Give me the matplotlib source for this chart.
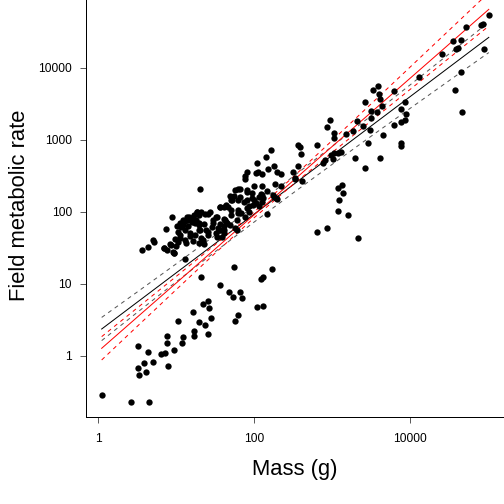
#Grafica log-log de tasa metabolica de campo contra masa corporal
import numpy as np
import matplotlib.pyplot as plt
from matplotlib.ticker import FixedLocator, NullLocator

plt.rcParams['font.family'] = ['Liberation Sans', 'DejaVu Sans']

#Puntos (log10 de masa, log10 de tasa metabolica)
#Grupo bajo
bajo_lx = [0.047, 0.42, 0.66, 0.51, 0.51, 0.53, 0.59, 0.61, 0.645, 0.71, 0.81, 0.86, 0.88,
           0.89, 0.90, 0.97, 1.02, 1.08, 1.09, 1.22, 1.23, 1.23, 1.30, 1.32, 1.35, 1.37, 1.41,
           1.42, 1.41, 1.45, 1.57, 1.68, 1.73, 1.74, 1.76, 1.79, 1.82, 1.84, 2.09, 2.12, 2.23,
           2.04, 2.12, 2.81, 2.94, 3.33, 3.08, 3.13, 3.14, 3.09, 3.08, 3.21]
bajo_ly = [-0.54, -0.64, -0.64, 0.135, -0.17, -0.27, -0.10, -0.23, 0.05, -0.09, 0.02, 0.04, 0.17,
           0.28, -0.14, 0.075, 0.48, 0.18, 0.255, 0.61, 0.34, 0.28, 0.47, 1.10, 0.72, 0.43, 0.76,
           0.66, 0.30, 0.52, 0.98, 0.89, 0.81, 1.23, 0.48, 0.565, 0.89, 0.80, 1.07, 1.09, 1.20,
           0.67, 0.69, 1.72, 1.78, 1.63, 2.33, 2.37, 2.26, 2.16, 2.01, 1.96]

#Grupo medio
medio_lx = [1.31, 0.57, 0.645, 0.72, 0.84, 0.88, 0.94, 1.00, 0.96, 0.98, 1.12, 0.87, 0.95, 0.99,
            1.05, 1.12, 1.02, 1.06, 1.18, 1.24, 1.32, 1.36, 1.41, 1.46, 1.47, 1.27, 1.32, 1.37,
            1.41, 1.44, 1.16, 1.20, 1.24, 1.11, 1.09, 1.15, 1.29, 1.05, 1.01, 1.09, 1.14, 1.18,
            1.23, 1.30, 1.27, 1.53, 1.57, 1.62, 1.67, 1.71, 1.80, 1.69, 1.71, 1.80, 1.91, 1.76,
            1.79, 1.91, 1.88, 1.91, 1.39, 1.48, 1.62, 1.69, 1.78, 1.88, 1.05, 1.12, 1.18, 1.31,
            1.59, 1.76, 1.63, 1.57, 1.56, 1.83, 1.91, 1.71,
            1.17, 1.25, 1.29, 1.36, 1.21, 1.29, 1.41, 1.51, 1.55, 1.62, 1.78, 1.64, 0.71, 0.85,
            0.92, 0.97, 1.03, 1.13, 1.22, 1.29, 1.35, 1.61, 1.52,
            2.04, 2.15, 2.22, 2.25, 2.18, 2.02, 2.05, 2.10, 2.29, 2.34, 2.50, 2.57, 2.59, 2.60,
            2.81, 2.10, 2.27, 2.35, 1.97, 2.09, 2.17, 2.24, 2.00, 2.03, 2.17, 2.29, 2.53, 2.61,
            1.89, 2.00, 1.91, 2.07, 2.12, 2.28, 1.99, 2.10, 2.26, 1.87,
            1.82, 1.74, 1.72, 1.82, 1.97, 2.10, 1.56, 1.64, 1.80, 1.94, 2.06, 1.51, 1.62, 1.66,
            1.54, 1.94, 2.56, 2.53]
medio_ly = [2.32, 1.47, 1.51, 1.58, 1.49, 1.47, 1.54, 1.53, 1.44, 1.42, 1.34, 1.76, 1.92, 1.62,
            1.68, 1.61, 1.72, 1.79, 1.66, 1.68, 1.63, 1.55, 1.68, 1.79, 1.88, 1.99, 1.99, 1.97,
            1.97, 1.99, 1.88, 1.90, 1.84, 1.87, 1.82, 1.80, 1.75, 1.85, 1.80, 1.89, 1.93, 1.91,
            1.95, 1.95, 2.00, 1.93, 2.06, 2.07, 2.07, 2.02, 2.02, 2.22, 2.16, 2.16, 2.16, 2.30,
            2.31, 2.30, 2.49, 2.55, 1.75, 1.84, 1.75, 1.82, 1.88, 1.93, 1.63, 1.75, 1.70, 1.75,
            1.65, 1.77, 1.89, 1.83, 1.75, 1.98, 2.05, 1.95,
            1.92, 1.88, 1.85, 1.83, 1.86, 1.82, 1.72, 1.71, 1.74, 1.80, 1.75, 1.86, 1.61, 1.50,
            1.55, 1.43, 1.58, 1.57, 1.60, 1.56, 1.61, 1.70, 1.65,
            2.67, 2.76, 2.85, 2.63, 2.59, 2.54, 2.55, 2.53, 2.55, 2.53, 2.55, 2.93, 2.90, 2.80,
            2.92, 2.36, 2.39, 2.36, 2.26, 2.25, 2.29, 2.23, 2.16, 2.12, 1.97, 2.17, 2.46, 2.42,
            2.46, 2.36, 2.28, 2.20, 2.19, 2.19, 2.10, 2.14, 2.20, 2.14,
            2.31, 2.22, 2.16, 2.21, 2.19, 2.23, 2.06, 2.09, 1.98, 2.08, 2.08, 1.93, 1.90, 1.84,
            1.78, 2.00, 2.64, 2.47]

#Grupo alto
alto_lx = [2.88, 2.91, 2.99, 3.01, 3.08, 3.11, 3.02, 3.03, 3.03, 2.93, 2.98, 3.18, 3.27, 3.32,
           3.40, 3.42, 3.49, 3.46, 3.29, 3.42, 3.50, 3.50, 3.52, 3.59, 3.60, 3.61, 3.58, 3.64,
           3.65, 3.62, 3.80, 3.94, 3.88, 3.95, 3.94, 3.89, 3.79, 3.89, 3.89, 4.12, 4.41, 4.55,
           4.65, 4.59, 4.61, 4.72, 4.91, 4.94, 5.01, 4.95, 4.66, 4.58, 4.67]
alto_ly = [2.68, 2.72, 2.79, 2.73, 2.81, 2.83, 2.81, 3.03, 3.09, 3.17, 3.28, 3.08, 3.12, 3.26,
           3.19, 3.53, 3.13, 2.95, 2.74, 2.60, 3.30, 3.40, 3.69, 3.75, 3.64, 3.57, 3.38, 3.47,
           3.06, 2.74, 3.68, 3.53, 3.42, 3.35, 3.27, 3.24, 3.21, 2.96, 2.91, 3.87, 4.19, 4.37,
           4.39, 4.26, 4.27, 4.56, 4.59, 4.61, 4.73, 4.26, 3.94, 3.69, 3.39]

#Rectas de ajuste y bandas (log10)
linea_lx = [0.047, 0.5, 1.0, 1.5, 2.0, 2.5, 3.0, 3.5, 4.0, 4.5, 5.01]
negro_centro = [0.371, 0.741, 1.149, 1.557, 1.965, 2.373, 2.781, 3.189, 3.597, 4.005, 4.421]
negro_sup = [0.532, 0.883, 1.274, 1.671, 2.075, 2.487, 2.906, 3.331, 3.760, 4.191, 4.632]
negro_inf = [0.210, 0.599, 1.024, 1.443, 1.855, 2.259, 2.656, 3.047, 3.434, 3.819, 4.210]
rojo_centro = [0.103, 0.533, 1.007, 1.481, 1.955, 2.429, 2.904, 3.378, 3.852, 4.326, 4.810]
rojo_sup = [0.265, 0.661, 1.099, 1.541, 1.995, 2.481, 2.987, 3.496, 4.007, 4.519, 5.042]
rojo_inf = [-0.059, 0.405, 0.915, 1.422, 1.915, 2.377, 2.821, 3.260, 3.697, 4.133, 4.578]

x_ticks = [1, 100, 10000]
y_ticks = [1, 10, 100, 1000, 10000]

fig = plt.figure(figsize=(7, 7), dpi=72)
ax = fig.add_axes([86/504, 87/504, 418/504, 417/504])

lx = np.concatenate([bajo_lx, medio_lx, alto_lx])
ly = np.concatenate([bajo_ly, medio_ly, alto_ly])
ax.scatter(10**lx, 10**ly, s=40, color='black', linewidths=0, zorder=3)

xl = 10**np.array(linea_lx)
dash = (0, (4, 4))
ax.plot(xl, 10**np.array(negro_centro), color='black', lw=1)
ax.plot(xl, 10**np.array(negro_sup), color='#555555', lw=1, linestyle=dash)
ax.plot(xl, 10**np.array(negro_inf), color='#555555', lw=1, linestyle=dash)
ax.plot(xl, 10**np.array(rojo_centro), color='red', lw=1)
ax.plot(xl, 10**np.array(rojo_sup), color='red', lw=1, linestyle=dash)
ax.plot(xl, 10**np.array(rojo_inf), color='red', lw=1, linestyle=dash)

ax.set_xscale('log')
ax.set_yscale('log')
ax.set_xlim(10**-0.154, 10**5.205)
ax.set_ylim(10**-0.851, 10**4.94)

ax.xaxis.set_major_locator(FixedLocator(x_ticks))
ax.yaxis.set_major_locator(FixedLocator(y_ticks))
ax.xaxis.set_minor_locator(NullLocator())
ax.yaxis.set_minor_locator(NullLocator())
ax.set_xticklabels([str(t) for t in x_ticks])
ax.set_yticklabels([str(t) for t in y_ticks])
ax.tick_params(axis='both', direction='out', length=6, width=0.8, labelsize=12, color='#333333')
ax.tick_params(axis='x', pad=10)
ax.tick_params(axis='y', pad=8)

for lado in ['top', 'right']:
    ax.spines[lado].set_visible(False)
for lado in ['left', 'bottom']:
    ax.spines[lado].set_linewidth(1)

ax.set_xlabel('Mass (g)', fontsize=22)
ax.set_ylabel('Field metabolic rate', fontsize=22)
ax.xaxis.label.set_va('center')
ax.yaxis.label.set_va('center')
ax.xaxis.set_label_coords(0.5, -0.127)
ax.yaxis.set_label_coords(-0.160, 0.507)

plt.savefig('out.png', dpi=72)
